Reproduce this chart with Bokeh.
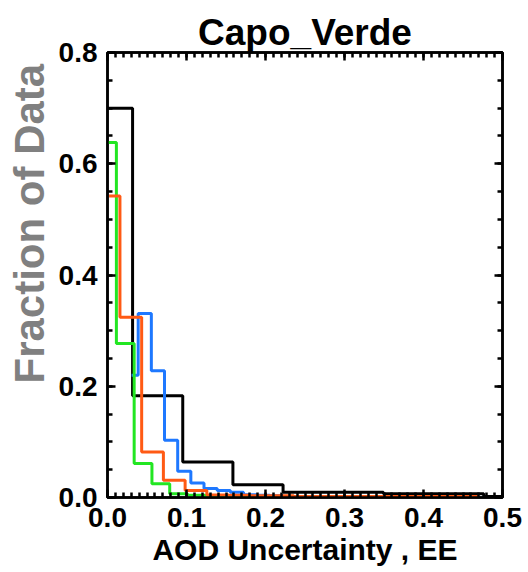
from bokeh.plotting import figure
from bokeh.models import (Range1d, FixedTicker, LinearAxis, Title,
                          NumeralTickFormatter, CustomJSTickFormatter)
from bokeh.embed import file_html
from bokeh.resources import INLINE

# ---------------- data ----------------
title_text = "Capo_Verde"
x_label_text = "AOD Uncertainty , EE"
y_label_text = "Fraction of Data"

x_ticks = [0.0, 0.1, 0.2, 0.3, 0.4, 0.5]
y_ticks = [0.0, 0.2, 0.4, 0.6, 0.8]

# bin centres / fractions (histogram step, centre mode)
black_x = [0.0, 0.0635, 0.127, 0.1905, 0.254, 0.3175, 0.381, 0.4445, 0.508]
black_y = [0.700, 0.183, 0.064, 0.023, 0.0095, 0.0095, 0.0067, 0.0067, 0.002]

blue_x = [0.0305, 0.0472, 0.0638, 0.0805, 0.0972, 0.1138, 0.1305, 0.1472,
          0.1638, 0.1805, 0.1972, 0.2138, 0.2305, 0.2472, 0.2638]
blue_y = [0.220, 0.331, 0.228, 0.103, 0.047, 0.026, 0.016, 0.0125,
          0.0095, 0.005, 0.004, 0.003, 0.002, 0.002, 0.001]

green_x = [0.0, 0.0225, 0.045, 0.0675, 0.09, 0.1125, 0.135, 0.1575, 0.18,
           0.2025, 0.225, 0.2475, 0.27, 0.2925, 0.315, 0.3375, 0.36, 0.3825, 0.405]
green_y = [0.638, 0.277, 0.061, 0.0246, 0.0066, 0.004, 0.003, 0.002, 0.002,
           0.001, 0.001, 0.001, 0.001, 0.001, 0.001, 0.001, 0.001, 0.002, 0.001]

orange_x = [0.002, 0.0295, 0.057, 0.0845, 0.112, 0.1395, 0.167, 0.1945, 0.222,
            0.2495, 0.277, 0.3045, 0.332, 0.3595, 0.387, 0.4145, 0.442, 0.4695]
orange_y = [0.542, 0.324, 0.082, 0.031, 0.0126, 0.0045, 0.004, 0.003, 0.003,
            0.002, 0.002, 0.002, 0.002, 0.002, 0.002, 0.002, 0.002, 0.002]

series = [
    (black_x, black_y, "#000000"),
    (blue_x, blue_y, "#1e78ff"),
    (green_x, green_y, "#22e622"),
    (orange_x, orange_y, "#ff5a14"),
]

# ---------------- figure ----------------
FONT = "Liberation Sans"

p = figure(width=528, height=572, x_range=Range1d(0, 0.5), y_range=Range1d(0, 0.8),
           output_backend="svg", toolbar_location=None,
           min_border_left=106, min_border_right=26, min_border_top=52, min_border_bottom=75,
           background_fill_color="white", border_fill_color="white")
p.xgrid.visible = False
p.ygrid.visible = False
p.outline_line_color = "black"
p.outline_line_width = 2.5

bottom_axis = p.below[0]
left_axis = p.left[0]

x_minor = [round(i * 0.01, 2) for i in range(51)]
y_minor = [round(i * 0.05, 2) for i in range(17)]
xt = FixedTicker(ticks=x_ticks, minor_ticks=x_minor)
yt = FixedTicker(ticks=y_ticks, minor_ticks=y_minor)

top_axis = LinearAxis(ticker=xt)
right_axis = LinearAxis(ticker=yt)
p.add_layout(top_axis, "above")
p.add_layout(right_axis, "right")

bottom_axis.ticker = xt
left_axis.ticker = yt

for ax in [bottom_axis, left_axis, top_axis, right_axis]:
    ax.axis_line_width = 2.5
    ax.axis_line_color = "black"
    ax.major_tick_in = 8
    ax.major_tick_out = 0
    ax.minor_tick_in = 5
    ax.minor_tick_out = 0
    ax.major_tick_line_width = 2.5
    ax.minor_tick_line_width = 2.5
    ax.major_tick_line_color = "black"
    ax.minor_tick_line_color = "black"
    ax.formatter = NumeralTickFormatter(format="0.0")
    ax.major_label_text_font = FONT
    ax.major_label_text_font_style = "bold"
    ax.major_label_text_font_size = "28px"
    ax.major_label_text_color = "black"
    ax.major_label_standoff = 10

for ax in [top_axis, right_axis]:
    ax.formatter = CustomJSTickFormatter(code="return ''")
    ax.major_label_text_font_size = "1px"
    ax.major_label_standoff = 0

bottom_axis.axis_label = x_label_text
bottom_axis.axis_label_text_font = FONT
bottom_axis.axis_label_text_font_style = "bold"
bottom_axis.axis_label_text_font_size = "30px"
bottom_axis.axis_label_text_color = "black"
bottom_axis.axis_label_standoff = 3

for xs, ys, col in series:
    p.step(xs, ys, mode="center", line_width=3, line_color=col)

p.title.text = title_text
p.title.align = "center"
p.title.text_font = FONT
p.title.text_font_style = "bold"
p.title.text_font_size = "37px"
p.title.text_color = "black"
p.title.standoff = 0

ytitle = Title(text=y_label_text, align="left", offset=114,
               text_font=FONT, text_font_style="bold", text_font_size="42px",
               text_color="#808080", standoff=6)
p.add_layout(ytitle, "left")

open("out.html", "w").write(file_html(p, INLINE))
